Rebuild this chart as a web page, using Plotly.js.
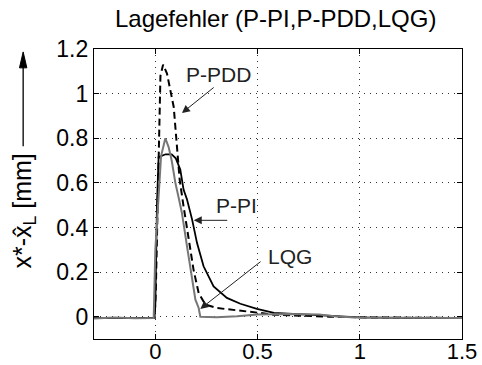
<!DOCTYPE html>
<html>
<head>
<meta charset="utf-8">
<script src="https://cdn.plot.ly/plotly-3.0.1.min.js"></script>
<style>html,body{margin:0;padding:0;background:#fff;}#chart{width:482px;height:365px;}</style>
</head>
<body>
<div id="chart"></div>
<script>
// Time axis [s] and position error [mm]
const tPI   = [-0.3, -0.15, -0.004, 0.0, 0.008, 0.016, 0.05, 0.08, 0.1, 0.122, 0.138, 0.155, 0.18, 0.204, 0.236, 0.285, 0.35, 0.416, 0.497, 0.58, 0.74, 0.9, 1.0, 1.2, 1.5];
const yPI   = [-0.006, -0.006, -0.006, 0.05, 0.5, 0.715, 0.728, 0.728, 0.71, 0.66, 0.57, 0.525, 0.435, 0.33, 0.226, 0.136, 0.084, 0.058, 0.035, 0.017, 0.009, 0.0, -0.003, -0.005, -0.006];

const tPDD  = [-0.3, -0.15, -0.004, 0.002, 0.016, 0.025, 0.038, 0.057, 0.09, 0.106, 0.119, 0.138, 0.163, 0.187, 0.212, 0.245, 0.3, 0.4, 0.51, 0.58, 0.7, 0.85, 1.0, 1.2, 1.5];
const yPDD  = [-0.006, -0.006, -0.006, 0.1, 0.8, 1.08, 1.13, 1.09, 0.94, 0.75, 0.614, 0.495, 0.345, 0.21, 0.106, 0.054, 0.039, 0.027, 0.017, 0.009, 0.004, 0.0, -0.003, -0.005, -0.006];

const tLQG  = [-0.3, -0.2, -0.1, -0.008, 0.0, 0.016, 0.028, 0.049, 0.065, 0.08, 0.098, 0.115, 0.13, 0.155, 0.18, 0.196, 0.212, 0.22, 0.3, 0.4, 0.5, 0.65, 0.8, 0.9, 1.0, 1.2, 1.5];
const yLQG  = [-0.008, -0.004, -0.007, -0.006, 0.3, 0.57, 0.72, 0.80, 0.76, 0.70, 0.60, 0.53, 0.465, 0.315, 0.166, 0.076, 0.039, 0.0, -0.002, 0.002, 0.01, 0.012, 0.01, 0.0, -0.004, -0.005, -0.006];

const xTicks = [0, 0.5, 1, 1.5];
const xTickLabels = ['0', '0.5', '1', '1.5'];
const yTicks = [0, 0.2, 0.4, 0.6, 0.8, 1, 1.2];
const yTickLabels = ['0', '0.2', '0.4', '0.6', '0.8', '1', '1.2'];

const titleText = 'Lagefehler (P-PI,P-PDD,LQG)';
const yLabel = 'x*-x\u0302<sub>L</sub> [mm]';

const FONT = 'Liberation Sans, Arial, Helvetica, sans-serif';

const traces = [
  {x: tPI, y: yPI, mode: 'lines', name: 'P-PI', line: {color: '#000', width: 1.8}},
  {x: tPDD, y: yPDD, mode: 'lines', name: 'P-PDD', line: {color: '#000', width: 2, dash: '7px,4px'}},
  {x: tLQG, y: yLQG, mode: 'lines', name: 'LQG', line: {color: '#777', width: 2}}
];

const arrowStyle = {showarrow: true, arrowhead: 2, arrowsize: 1.6, arrowwidth: 1, arrowcolor: '#222', text: ''};

const annotations = [
  {x: 0.308, y: 1.085, xref: 'x', yref: 'y', text: 'P-PDD', showarrow: false, font: {family: FONT, size: 21, color: '#222'}, xanchor: 'center', yanchor: 'middle'},
  Object.assign({x: 0.13, y: 0.913, ax: 0.293, ay: 1.033, xref: 'x', yref: 'y', axref: 'x', ayref: 'y'}, arrowStyle),
  {x: 0.395, y: 0.5, xref: 'x', yref: 'y', text: 'P-PI', showarrow: false, font: {family: FONT, size: 21, color: '#222'}, xanchor: 'center', yanchor: 'middle'},
  Object.assign({x: 0.188, y: 0.432, ax: 0.359, ay: 0.432, xref: 'x', yref: 'y', axref: 'x', ayref: 'y'}, arrowStyle),
  {x: 0.66, y: 0.27, xref: 'x', yref: 'y', text: 'LQG', showarrow: false, font: {family: FONT, size: 21, color: '#222'}, xanchor: 'center', yanchor: 'middle'},
  Object.assign({x: 0.22, y: 0.035, ax: 0.522, ay: 0.252, xref: 'x', yref: 'y', axref: 'x', ayref: 'y'}, arrowStyle),
  {x: -0.19, y: 0.44, xref: 'paper', yref: 'paper', text: yLabel, textangle: -90, showarrow: false, font: {family: FONT, size: 25, color: '#000'}, xanchor: 'center', yanchor: 'middle'}
];

// y-label arrow (shaft + filled head) in paper coordinates
const ax0 = -0.1925, hw = 0.010;
const shapes = [
  {type: 'line', xref: 'paper', yref: 'paper', x0: ax0, x1: ax0, y0: 0.665, y1: 0.95, line: {color: '#000', width: 1.3}},
  {type: 'path', xref: 'paper', yref: 'paper', path: `M ${ax0 - hw} 0.935 L ${ax0 + hw} 0.935 L ${ax0} 0.99 Z`, fillcolor: '#000', line: {color: '#000', width: 1}}
];

const axisCommon = {
  showline: true, linecolor: '#000', linewidth: 1.2, mirror: 'ticks',
  ticks: 'inside', ticklen: 5, tickcolor: '#000', tickwidth: 1,
  showgrid: true, gridcolor: '#333', griddash: '1px,5px', gridwidth: 1,
  zeroline: false, tickfont: {family: FONT, size: 23, color: '#000'}
};

const layout = {
  width: 482, height: 365,
  margin: {l: 94, r: 20, t: 49, b: 26},
  paper_bgcolor: '#fff', plot_bgcolor: '#fff',
  showlegend: false,
  title: {text: titleText, font: {family: FONT, size: 24, color: '#000'}, x: 0.572, xanchor: 'center', y: 0.948, yanchor: 'middle'},
  xaxis: Object.assign({}, axisCommon, {range: [-0.3, 1.5], tickvals: xTicks, ticktext: xTickLabels, ticklabelstandoff: -8, tickfont: {family: FONT, size: 22, color: '#000'}}),
  yaxis: Object.assign({}, axisCommon, {range: [-0.1, 1.2], tickvals: yTicks, ticktext: yTickLabels}),
  annotations: annotations,
  shapes: shapes
};

Plotly.newPlot('chart', traces, layout, {displayModeBar: false, staticPlot: true});
</script>
</body>
</html>
